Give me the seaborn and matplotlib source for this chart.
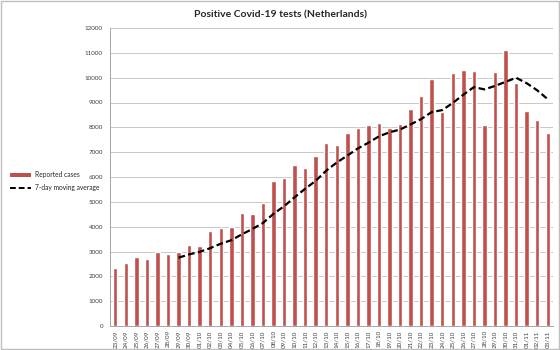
import numpy as np
import pandas as pd
import matplotlib
matplotlib.use("Agg")
import matplotlib.pyplot as plt
from matplotlib.patches import Rectangle, Patch
from matplotlib.lines import Line2D
import seaborn as sns

dates = ["23/09", "24/09", "25/09", "26/09", "27/09", "28/09", "29/09", "30/09",
         "01/10", "02/10", "03/10", "04/10", "05/10", "06/10", "07/10", "08/10",
         "09/10", "10/10", "11/10", "12/10", "13/10", "14/10", "15/10", "16/10",
         "17/10", "18/10", "19/10", "20/10", "21/10", "22/10", "23/10", "24/10",
         "25/10", "26/10", "27/10", "28/10", "29/10", "30/10", "31/10",
         "01/11", "02/11", "03/11"]
cases = [2345, 2530, 2770, 2705, 2990, 2910, 3000, 3280,
         3240, 3820, 3950, 3980, 4570, 4510, 4970, 5820,
         5945, 6495, 6360, 6830, 7365, 7270, 7765, 7970,
         8090, 8170, 7970, 8140, 8730, 9250, 9960, 8635,
         10180, 10310, 10270, 8090, 10230, 11100, 9790,
         8660, 8300, 7765]
yticks = list(range(0, 12001, 1000))

df = pd.DataFrame({"date": dates, "cases": cases})
df["ma7"] = df["cases"].rolling(7).mean()
df["pos"] = np.arange(len(df))

sns.set_style("white")
plt.rcParams["font.family"] = ["Lato", "DejaVu Sans"]

fig = plt.figure(figsize=(5.6, 3.5), dpi=100)
ax = fig.add_axes([110 / 560, 24 / 350, 443 / 560, 298 / 350])

bar_color = "#C0504D"
sns.barplot(data=df, x="date", y="cases", color=bar_color, width=0.42,
            saturation=1, ax=ax, zorder=3)
sns.lineplot(data=df, x="pos", y="ma7", color="black", lw=1.6, ax=ax,
             zorder=4, dashes=False)
ax.lines[-1].set_linestyle((0, (3, 1.5)))

ax.set_xlim(-0.5, len(dates) - 0.5)
ax.set_ylim(0, 12000)
ax.set_yticks(yticks)
ax.set_yticklabels([str(v) for v in yticks], fontsize=4.5, color="#404040")
ax.set_xticks(range(len(dates)))
ax.set_xticklabels(dates, rotation=90, fontsize=4.5, color="#404040")
ax.set_xticks(np.arange(-0.5, len(dates)), minor=True)
ax.tick_params(axis="x", which="major", length=0, pad=3)
ax.tick_params(axis="x", which="minor", length=3, color="#A6A6A6", width=0.6)
ax.tick_params(axis="y", length=3, color="#A6A6A6", width=0.6, pad=2)
ax.set_xlabel("")
ax.set_ylabel("")
ax.grid(axis="y", color="#C8C8C8", lw=0.7, zorder=0)
ax.set_axisbelow(True)
for s in ["top", "right"]:
    ax.spines[s].set_visible(False)
for s in ["left", "bottom"]:
    ax.spines[s].set_color("#A6A6A6")
    ax.spines[s].set_linewidth(0.7)

fig.text(280 / 560, 1 - 15 / 350, "Positive Covid-19 tests (Netherlands)",
         ha="center", va="center", fontsize=7.5, fontweight="bold")

handles = [Patch(facecolor=bar_color, edgecolor="none"),
           Line2D([0], [0], color="black", lw=1.4, linestyle=(0, (3, 1.5)))]
fig.legend(handles, ["Reported cases", "7-day moving average"],
           loc="center left", bbox_to_anchor=(4 / 560, 1 - 181 / 350),
           frameon=False, fontsize=4.8, handlelength=3.2, handleheight=0.5,
           labelspacing=0.9, handletextpad=0.5)

fig.patches.append(Rectangle((0.002, 0.003), 0.996, 0.994, transform=fig.transFigure,
                             fill=False, edgecolor="#BFBFBF", lw=1.0))

fig.savefig("out.png", dpi=100)
